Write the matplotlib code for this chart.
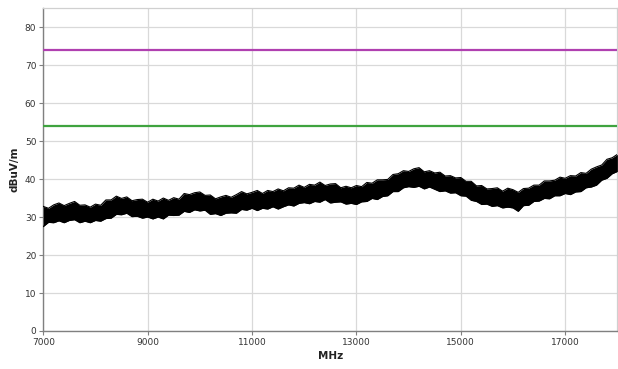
import numpy as np
import matplotlib.pyplot as plt

# Limit lines (dBuV/m)
PEAK_LIMIT = 74.0
AVG_LIMIT = 54.0

FREQ_START = 7000
FREQ_STEP = 100
trace_min = [
    27.5, 28.6, 28.5, 29.0, 28.5, 29.1, 29.3, 28.5, 28.9, 28.5,
    29.1, 28.9, 29.6, 29.7, 30.7, 30.6, 31.0, 30.1, 30.2, 29.7,
    30.0, 29.5, 30.0, 29.5, 30.5, 30.4, 30.5, 31.5, 31.2, 31.9,
    31.6, 31.8, 30.7, 30.9, 30.4, 31.0, 31.1, 31.0, 32.0, 31.8,
    32.3, 31.7, 32.3, 32.1, 32.7, 32.1, 32.7, 33.2, 32.9, 33.6,
    33.8, 33.5, 34.1, 33.9, 34.6, 33.7, 33.9, 34.0, 33.4, 33.6,
    33.3, 34.0, 34.1, 34.9, 34.6, 35.4, 35.6, 36.7, 36.7, 37.7,
    38.0, 37.8, 38.1, 37.4, 37.9, 37.3, 36.7, 36.9, 36.3, 36.4,
    35.6, 35.5, 34.4, 34.1, 33.3, 33.4, 32.8, 33.0, 32.4, 32.6,
    32.4, 31.5, 33.0, 33.1, 34.1, 34.2, 34.9, 34.8, 35.6, 35.6,
    36.2, 35.9, 36.6, 36.7, 37.7, 37.9, 38.4, 39.7, 40.2, 41.4,
    42.0,
]
trace_max = [
    32.8, 32.3, 33.2, 33.7, 33.0, 33.6, 34.1, 33.1, 33.2, 32.6,
    33.4, 33.1, 34.5, 34.5, 35.5, 34.9, 35.3, 34.3, 34.6, 34.7,
    33.9, 34.7, 34.2, 35.0, 34.4, 35.1, 34.7, 36.2, 35.9, 36.4,
    36.6, 35.7, 35.8, 34.8, 35.3, 35.7, 35.2, 35.9, 36.7, 36.1,
    36.5, 37.0, 36.2, 37.0, 36.7, 37.4, 36.9, 37.7, 37.6, 38.4,
    37.8, 38.6, 38.4, 39.2, 38.3, 38.7, 38.8, 37.7, 38.1, 37.7,
    38.3, 38.0, 39.1, 38.9, 39.8, 39.8, 39.9, 41.2, 41.4, 42.2,
    42.0, 42.7, 43.0, 41.9, 42.2, 41.6, 41.8, 40.8, 40.9, 40.3,
    40.4, 39.4, 39.4, 38.2, 38.3, 37.4, 37.5, 37.7, 36.8, 37.6,
    37.2, 36.5, 37.5, 37.6, 38.4, 38.4, 39.5, 39.5, 39.7, 40.5,
    40.2, 40.9, 40.8, 41.7, 41.5, 42.6, 43.2, 43.7, 45.2, 45.6,
    46.5,
]

X_TICKS = [7000, 9000, 11000, 13000, 15000, 17000]
Y_TICKS = [0, 10, 20, 30, 40, 50, 60, 70, 80]

freq = FREQ_START + FREQ_STEP * np.arange(len(trace_min))

fig = plt.figure(figsize=(6.18, 3.69), dpi=100)
ax = fig.add_axes([0.070, 0.103, 0.929, 0.875])

ax.axhline(PEAK_LIMIT, color='#b040b0', linewidth=1.6, zorder=3)
ax.axhline(AVG_LIMIT, color='#3fa33f', linewidth=1.6, zorder=3)

# noisy trace drawn as its min/max band with jagged edges
ax.fill_between(freq, trace_min, trace_max, color='black', linewidth=0, zorder=4)
ax.plot(freq, trace_min, color='black', linewidth=0.8, zorder=4)
ax.plot(freq, trace_max, color='black', linewidth=0.8, zorder=4)

ax.set_xlim(7000, 18000)
ax.set_ylim(0, 85)
ax.set_xticks(X_TICKS)
ax.set_yticks(Y_TICKS)
ax.grid(True, color='#d9d9d9', linewidth=0.9)
ax.set_axisbelow(True)

for side in ['left', 'bottom']:
    ax.spines[side].set_color('#808080')
    ax.spines[side].set_linewidth(1.0)
for side in ['top', 'right']:
    ax.spines[side].set_color('#d0d0d0')
    ax.spines[side].set_linewidth(0.9)

ax.tick_params(axis='both', labelsize=6.5, colors='#808080', labelcolor='#333333',
               length=3, width=0.8, pad=2)

ax.set_xlabel('MHz', fontsize=7.5, fontweight='bold', color='#222222', labelpad=3)
ax.set_ylabel('dBuV/m', fontsize=7.5, fontweight='bold', color='#222222', labelpad=4)

fig.savefig('out.png', dpi=100)
